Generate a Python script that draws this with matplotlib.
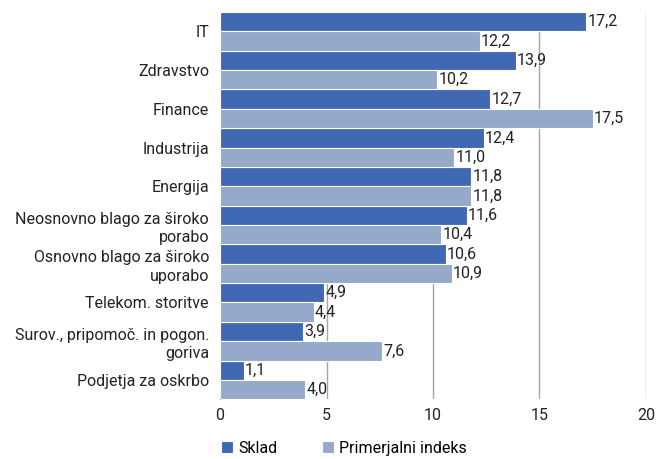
import matplotlib
matplotlib.use("Agg")
import matplotlib.pyplot as plt
import numpy as np

plt.rcParams['font.family'] = ['Roboto', 'DejaVu Sans']

categories = ['IT', 'Zdravstvo', 'Finance', 'Industrija', 'Energija',
              'Neosnovno blago za široko\nporabo', 'Osnovno blago za široko\nuporabo',
              'Telekom. storitve', 'Surov., pripomoč. in pogon.\ngoriva',
              'Podjetja za oskrbo']
sklad = [17.2, 13.9, 12.7, 12.4, 11.8, 11.6, 10.6, 4.9, 3.9, 1.1]
indeks = [12.2, 10.2, 17.5, 11.0, 11.8, 10.4, 10.9, 4.4, 7.6, 4.0]

c_dark = '#4169b3'
c_light = '#95a9cb'
fs = 11.5

fig = plt.figure(figsize=(6.57, 4.59), dpi=100)
ax = fig.add_axes([0.335, 0.13, 0.648, 0.844])

y = np.arange(len(categories))
h = 0.5
b1 = ax.barh(y - h / 2, sklad, height=h, color=c_dark, edgecolor='white', linewidth=0.8, label='Sklad', zorder=3)
b2 = ax.barh(y + h / 2, indeks, height=h, color=c_light, edgecolor='white', linewidth=0.8, label='Primerjalni indeks', zorder=3)

for bars, vals in ((b1, sklad), (b2, indeks)):
    for bar, v in zip(bars, vals):
        ax.text(bar.get_width() + 0.05, bar.get_y() + bar.get_height() / 2,
                f'{v:.1f}'.replace('.', ','), va='center', ha='left',
                fontsize=fs, color='#222222', zorder=4)

ax.set_ylim(len(categories) - 0.5, -0.5)
ax.set_xlim(0, 20)
ax.set_xticks([0, 5, 10, 15, 20])
ax.set_yticks(y)
ax.set_yticklabels(categories, fontsize=fs, linespacing=1.3)
ax.tick_params(axis='both', length=0, labelsize=fs, colors='#222222')
ax.tick_params(axis='x', pad=6)
ax.tick_params(axis='y', pad=8)
ax.grid(axis='x', color='#a6a6a6', linewidth=1, zorder=0)
for s in ['top', 'right', 'bottom']:
    ax.spines[s].set_visible(False)
ax.spines['left'].set_color('#a6a6a6')

ax.legend(loc='upper left', bbox_to_anchor=(-0.012, -0.09), ncol=2, frameon=False,
          fontsize=fs, handlelength=0.75, handleheight=0.75, handletextpad=0.3,
          columnspacing=2.8, borderaxespad=0)

fig.savefig('out.png', dpi=100)
